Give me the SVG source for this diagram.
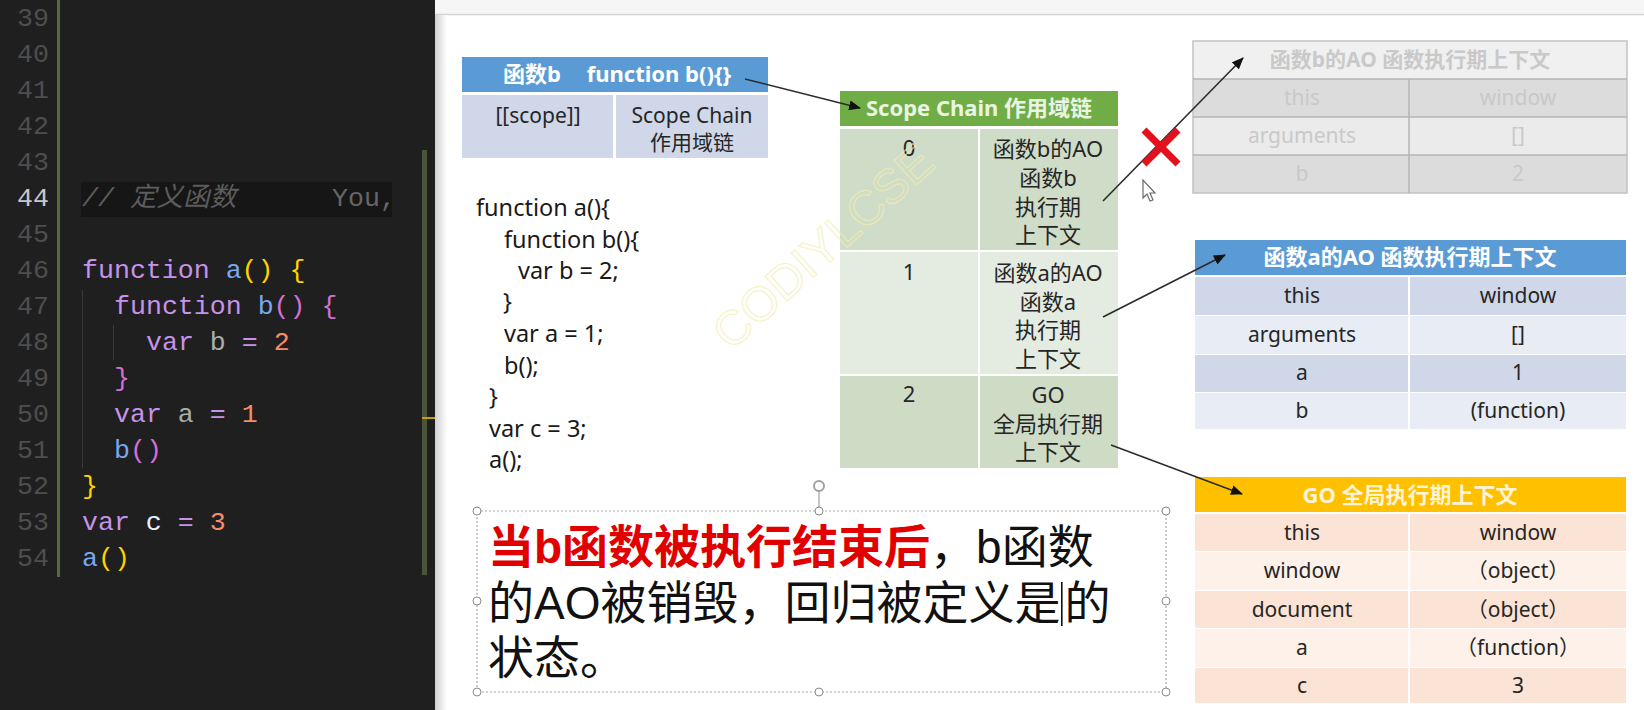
<svg xmlns="http://www.w3.org/2000/svg" width="1644" height="710" viewBox="0 0 1644 710">
<defs>
<style>
.mono{font-family:"Liberation Mono","DejaVu Sans Mono",monospace;font-size:26.6px}
.ln{fill:#4e4e4e;text-anchor:end}
.kw{fill:#c792ea}.fn{fill:#79a8f0}.py{fill:#ffd200}.pp{fill:#d46fd6}.vr{fill:#a7b0a8}.nm{fill:#f78c6c}.vc{fill:#e6f2ff}
.s{font-family:"Noto Sans","Noto Sans CJK SC",sans-serif}
.t{font-size:21px;fill:#262626;text-anchor:middle}
.h{font-size:22px;font-weight:bold;text-anchor:middle}
.cc{font-size:22px;fill:#262626;text-anchor:middle}
.code{font-size:23.5px;fill:#1a1a1a}
.g{font-size:21px;fill:#c9c9c9;text-anchor:middle}
.big{font-family:"Liberation Sans","Noto Sans CJK SC",sans-serif;font-size:46px;fill:#111}
.conn{stroke:#2b2b2b;stroke-width:1.6;fill:none}
.hd{fill:#fff;stroke:#8a8a8a;stroke-width:1}
</style>
<marker id="ah" markerUnits="userSpaceOnUse" markerWidth="12" markerHeight="10" refX="11" refY="5" orient="auto">
<path d="M0,0 L12,5 L0,10 z" fill="#111"/>
</marker>
<linearGradient id="sh" x1="0" x2="1" y1="0" y2="0">
<stop offset="0" stop-color="#d0d0d0"/><stop offset="1" stop-color="#ffffff"/>
</linearGradient>
</defs>

<g id="slide-bg">
<rect x="435" y="0" width="1209" height="710" fill="#ffffff"/>
<rect x="435" y="0" width="1209" height="14" fill="#f6f6f6"/>
<line x1="435" y1="14.5" x2="1644" y2="14.5" stroke="#d2d2d2" stroke-width="1.5"/>
<rect x="435" y="15" width="12" height="695" fill="url(#sh)"/>
</g>

<g id="editor">
<rect x="0" y="0" width="435" height="710" fill="#1f1f1f"/>
<rect x="57" y="0" width="3" height="577" fill="#58683f"/>
<rect x="422" y="150" width="5" height="425" fill="#4a5438"/>
<rect x="422" y="417" width="13" height="2" fill="#c8a000"/>
<rect x="81" y="182" width="311" height="35" fill="#161616"/>
<line x1="82.5" y1="290" x2="82.5" y2="468" stroke="#3a3a3a" stroke-width="1"/>
<line x1="113.5" y1="325" x2="113.5" y2="360" stroke="#3a3a3a" stroke-width="1"/>
<g class="mono ln">
<text x="49" y="26">39</text><text x="49" y="62">40</text><text x="49" y="98">41</text><text x="49" y="134">42</text>
<text x="49" y="170">43</text><text x="49" y="206" fill="#c8c8c8">44</text><text x="49" y="242">45</text><text x="49" y="278">46</text>
<text x="49" y="314">47</text><text x="49" y="350">48</text><text x="49" y="386">49</text><text x="49" y="422">50</text>
<text x="49" y="458">51</text><text x="49" y="494">52</text><text x="49" y="530">53</text><text x="49" y="566">54</text>
</g>
<g class="mono">
<text x="82" y="206" fill="#5c5c5c" font-style="italic" font-family="'Liberation Mono','Noto Sans CJK SC',monospace">// 定义函数</text>
<text x="332" y="206" fill="#666666">You,</text>
<text x="82" y="278" xml:space="preserve"><tspan class="kw">function</tspan> <tspan class="fn">a</tspan><tspan class="py">()</tspan> <tspan class="py">{</tspan></text>
<text x="114" y="314" xml:space="preserve"><tspan class="kw">function</tspan> <tspan class="fn">b</tspan><tspan class="pp">()</tspan> <tspan class="pp">{</tspan></text>
<text x="146" y="350" xml:space="preserve"><tspan class="kw">var</tspan> <tspan class="vr">b</tspan> <tspan class="kw">=</tspan> <tspan class="nm">2</tspan></text>
<text x="114" y="386" class="pp">}</text>
<text x="114" y="422" xml:space="preserve"><tspan class="kw">var</tspan> <tspan class="vr">a</tspan> <tspan class="kw">=</tspan> <tspan class="nm">1</tspan></text>
<text x="114" y="458"><tspan class="fn">b</tspan><tspan class="pp">()</tspan></text>
<text x="82" y="494" class="py">}</text>
<text x="82" y="530" xml:space="preserve"><tspan class="kw">var</tspan> <tspan class="vc">c</tspan> <tspan class="kw">=</tspan> <tspan class="nm">3</tspan></text>
<text x="82" y="566"><tspan class="fn">a</tspan><tspan class="py">()</tspan></text>
</g>
</g>

<g id="func-b-table" class="s">
<rect x="462" y="57" width="306" height="35" fill="#5b9bd5"/>
<text x="532" y="82" class="h" fill="#ffffff" font-size="21">函数b</text>
<text x="659" y="82" class="h" fill="#ffffff" font-size="21">function b(){}</text>
<rect x="462" y="95" width="151" height="63" fill="#cfd7e8"/>
<rect x="616" y="95" width="152" height="63" fill="#cfd7e8"/>
<text x="538" y="123" class="t">[[scope]]</text>
<text x="692" y="123" class="t">Scope Chain</text>
<text x="692" y="150" class="t">作用域链</text>
</g>

<g id="code-block" class="s code">
<text x="476" y="216">function a(){</text>
<text x="504" y="248">function b(){</text>
<text x="518" y="279">var b = 2;</text>
<text x="503" y="310">}</text>
<text x="504" y="342">var a = 1;</text>
<text x="504" y="374">b();</text>
<text x="489" y="405">}</text>
<text x="489" y="437">var c = 3;</text>
<text x="489" y="468">a();</text>
</g>

<g id="scope-chain" class="s">
<rect x="840" y="91" width="278" height="35" fill="#70ad47"/>
<text x="979" y="116" class="h" fill="#eaf4e2">Scope Chain 作用域链</text>
<rect x="840" y="129" width="278" height="121" fill="#cfdcc8"/>
<rect x="840" y="252" width="278" height="122" fill="#e4ebe0"/>
<rect x="840" y="376" width="278" height="92" fill="#cedcc6"/>
<line x1="979" y1="129" x2="979" y2="468" stroke="#ffffff" stroke-width="2"/>
<text x="909" y="156" class="cc">0</text>
<text x="1048" y="157" class="cc">函数b的AO</text>
<text x="1048" y="186" class="cc">函数b</text>
<text x="1048" y="215" class="cc">执行期</text>
<text x="1048" y="243" class="cc">上下文</text>
<text x="909" y="280" class="cc">1</text>
<text x="1048" y="281" class="cc">函数a的AO</text>
<text x="1048" y="310" class="cc">函数a</text>
<text x="1048" y="338" class="cc">执行期</text>
<text x="1048" y="367" class="cc">上下文</text>
<text x="909" y="402" class="cc">2</text>
<text x="1048" y="403" class="cc">GO</text>
<text x="1048" y="432" class="cc">全局执行期</text>
<text x="1048" y="460" class="cc">上下文</text>
</g>

<g id="ao-b-table" class="s">
<rect x="1193" y="41" width="434" height="38" fill="#f0f0f0"/>
<rect x="1193" y="79" width="434" height="38" fill="#dcdcdc"/>
<rect x="1193" y="117" width="434" height="38" fill="#ebebeb"/>
<rect x="1193" y="155" width="434" height="38" fill="#dcdcdc"/>
<rect x="1193" y="41" width="434" height="152" fill="none" stroke="#c2c2c2" stroke-width="1.5"/>
<line x1="1193" y1="79" x2="1627" y2="79" stroke="#b4b4b4" stroke-width="1.5"/>
<line x1="1193" y1="117" x2="1627" y2="117" stroke="#b4b4b4" stroke-width="1.5"/>
<line x1="1193" y1="155" x2="1627" y2="155" stroke="#b4b4b4" stroke-width="1.5"/>
<line x1="1409" y1="79" x2="1409" y2="193" stroke="#b4b4b4" stroke-width="1.5"/>
<text x="1410" y="67" class="g" font-size="23" font-weight="bold" fill="#d2d2d2">函数b的AO 函数执行期上下文</text>
<text x="1302" y="105" class="g">this</text><text x="1518" y="105" class="g">window</text>
<text x="1302" y="143" class="g">arguments</text><text x="1518" y="143" class="g">[]</text>
<text x="1302" y="181" class="g">b</text><text x="1518" y="181" class="g">2</text>
</g>

<g id="ao-a-table" class="s">
<rect x="1195" y="240" width="431" height="35" fill="#5b9bd5"/>
<text x="1410" y="265" class="h" font-size="23" fill="#ffffff">函数a的AO 函数执行期上下文</text>
<rect x="1195" y="277" width="431" height="38" fill="#cfd7e9"/>
<rect x="1195" y="316" width="431" height="38" fill="#e8ecf4"/>
<rect x="1195" y="355" width="431" height="37" fill="#cfd7e9"/>
<rect x="1195" y="393" width="431" height="36" fill="#e8ecf4"/>
<line x1="1409" y1="277" x2="1409" y2="429" stroke="#ffffff" stroke-width="2"/>
<text x="1302" y="303" class="t">this</text><text x="1518" y="303" class="t">window</text>
<text x="1302" y="342" class="t">arguments</text><text x="1518" y="342" class="t">[]</text>
<text x="1302" y="380" class="t">a</text><text x="1518" y="380" class="t">1</text>
<text x="1302" y="418" class="t">b</text><text x="1518" y="418" class="t">(function)</text>
</g>

<g id="go-table" class="s">
<rect x="1195" y="477" width="431" height="35" fill="#ffc000"/>
<text x="1410" y="503" class="h" font-size="23" fill="#fff4d6">GO 全局执行期上下文</text>
<rect x="1195" y="514" width="431" height="37" fill="#fbe4d5"/>
<rect x="1195" y="552" width="431" height="38" fill="#fdf1e9"/>
<rect x="1195" y="591" width="431" height="37" fill="#fbe4d5"/>
<rect x="1195" y="629" width="431" height="38" fill="#fdf1e9"/>
<rect x="1195" y="668" width="431" height="35" fill="#fbe4d5"/>
<line x1="1409" y1="514" x2="1409" y2="703" stroke="#ffffff" stroke-width="2"/>
<text x="1302" y="540" class="t">this</text><text x="1518" y="540" class="t">window</text>
<text x="1302" y="578" class="t">window</text><text x="1518" y="578" class="t">（object）</text>
<text x="1302" y="617" class="t">document</text><text x="1518" y="617" class="t">（object）</text>
<text x="1302" y="655" class="t">a</text><text x="1518" y="655" class="t">（function）</text>
<text x="1302" y="693" class="t">c</text><text x="1518" y="693" class="t">3</text>
</g>

<g id="watermark">
<text x="826" y="262" transform="rotate(-42 826 250)" font-family="'Liberation Sans',sans-serif" font-size="48" text-anchor="middle" fill="none" stroke="#f3eeb0" stroke-width="1.2" opacity="0.7">CODIYLCSE</text>
</g>

<g id="connectors">
<line class="conn" x1="745" y1="79" x2="860" y2="108" marker-end="url(#ah)"/>
<line class="conn" x1="1103" y1="201" x2="1243" y2="58" marker-end="url(#ah)"/>
<line class="conn" x1="1103" y1="317" x2="1225" y2="255" marker-end="url(#ah)"/>
<line class="conn" x1="1111" y1="445" x2="1242" y2="494" marker-end="url(#ah)"/>
</g>

<g id="red-x">
<line x1="1144" y1="130" x2="1178" y2="164" stroke="#e3101e" stroke-width="7"/>
<line x1="1178" y1="130" x2="1144" y2="164" stroke="#e3101e" stroke-width="7"/>
</g>

<g id="mouse-cursor">
<path d="M1143,180 L1143,198 L1147,194 L1150,201 L1153,200 L1150,193 L1155,193 Z" fill="#ffffff" stroke="#6a6a6a" stroke-width="1.2"/>
</g>

<g id="textbox">
<rect x="477" y="511" width="689" height="181" fill="none" stroke="#a8a8a8" stroke-width="1.2" stroke-dasharray="2,2"/>
<line x1="819" y1="490" x2="819" y2="511" stroke="#a0a0a0" stroke-width="1.2"/>
<circle cx="819" cy="486" r="5" fill="none" stroke="#a0a0a0" stroke-width="2"/>
<circle class="hd" cx="477" cy="511" r="4"/><circle class="hd" cx="819" cy="511" r="4"/><circle class="hd" cx="1166" cy="511" r="4"/>
<circle class="hd" cx="477" cy="601" r="4"/><circle class="hd" cx="1166" cy="601" r="4"/>
<circle class="hd" cx="477" cy="692" r="4"/><circle class="hd" cx="819" cy="692" r="4"/><circle class="hd" cx="1166" cy="692" r="4"/>
<text x="488" y="563" class="big"><tspan fill="#e00000" font-weight="bold">当b函数被执行结束后</tspan>，b函数</text>
<text x="488" y="619" class="big">的AO被销毁，回归被定义是<tspan dx="4">的</tspan></text>
<rect x="1061" y="582" width="1.6" height="44" fill="#111"/>
<text x="488" y="674" class="big">状态。</text>
</g>
</svg>
